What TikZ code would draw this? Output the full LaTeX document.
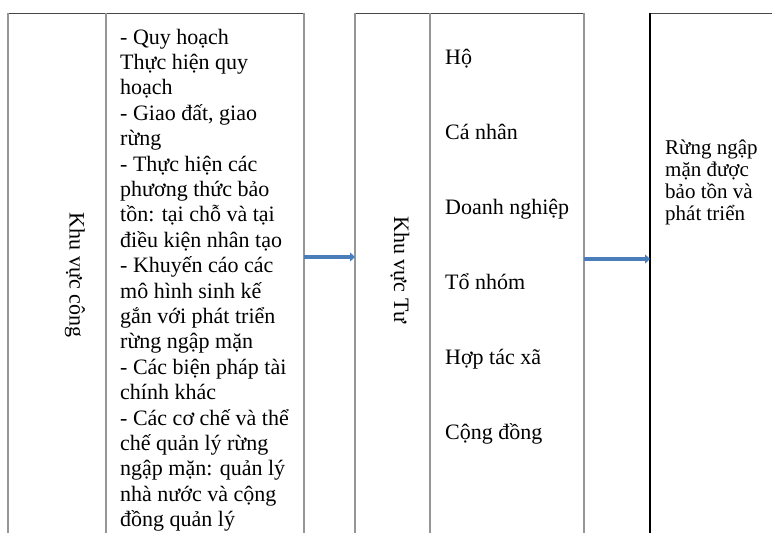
\documentclass[tikz,border=0pt]{standalone}
\usepackage{fontspec}
\setmainfont{Liberation Serif}
\usetikzlibrary{arrows.meta}
\definecolor{arrowblue}{RGB}{74,126,187}
\definecolor{rulegray}{RGB}{150,150,150}
\definecolor{topgray}{RGB}{70,70,70}
\begin{document}
\begin{tikzpicture}[x=1pt,y=-1pt,
  topline/.style={line width=1pt, draw=topgray},
  sideline/.style={line width=1.3pt, draw=rulegray},
  darkline/.style={line width=1.3pt, draw=black},
  flow/.style={line width=4.2pt, draw=arrowblue, -{Triangle[length=5pt,width=9pt]}},
  body/.style={font=\fontsize{22}{25}\selectfont, inner sep=0pt, anchor=base west},
  small/.style={font=\fontsize{21}{22}\selectfont, inner sep=0pt, anchor=base west},
  vlabel/.style={font=\fontsize{22}{25}\selectfont, inner sep=0pt, rotate=-90}]
\useasboundingbox (0,0) rectangle (772,533);
% box 1
\coordinate (a1) at (8,13);   \coordinate (a2) at (106,13);  \coordinate (a3) at (304,13);
\coordinate (a1b) at (8,533); \coordinate (a2b) at (106,533); \coordinate (a3b) at (304,533);
% box 2
\coordinate (b1) at (355,13);   \coordinate (b2) at (430,13);  \coordinate (b3) at (584,13);
\coordinate (b1b) at (355,533); \coordinate (b2b) at (430,533); \coordinate (b3b) at (584,533);
% box 3
\coordinate (c1) at (650,13);   \coordinate (c2) at (772,13);
\coordinate (c1b) at (650,533);
\draw[topline] (a1) -- (a3);
\draw[topline] (b1) -- (b3);
\draw[topline] (c1) -- (c2);
\draw[sideline] (a1) -- (a1b);
\draw[sideline] (a2) -- (a2b);
\draw[sideline] (a3) -- (a3b);
\draw[sideline] (b1) -- (b1b);
\draw[sideline] (b2) -- (b2b);
\draw[sideline] (b3) -- (b3b);
\draw[darkline] (c1) -- (c1b);
% labels
\node[vlabel] (kvc) at (75,275) {Khu vực công};
\node[vlabel] (kvt) at (400,270) {Khu vực Tư};
\foreach \t [count=\i] in {{- Quy hoạch},{Thực hiện quy},{hoạch},{- Giao đất, giao},{rừng},{- Thực hiện các},{phương thức bảo},{tồn: tại chỗ và tại},{điều kiện nhân tạo},{- Khuyến cáo các},{mô hình sinh kế},{gắn với phát triển},{rừng ngập mặn},{- Các biện pháp tài},{chính khác},{- Các cơ chế và thể},{chế quản lý rừng},{ngập mặn: quản lý},{nhà nước và cộng},{đồng quản lý}}
  \node[body] (p\i) at (120,{44+25.4*(\i-1)}) {\t};
\foreach \t [count=\i] in {Hộ,Cá nhân,Doanh nghiệp,Tổ nhóm,Hợp tác xã,Cộng đồng}
  \node[body] (q\i) at (445,{64+75*(\i-1)}) {\t};
\foreach \t [count=\i] in {Rừng ngập,mặn được,bảo tồn và,phát triển}
  \node[small] (r\i) at (665,{154+22*(\i-1)}) {\t};
% arrows
\coordinate (s1) at (304,257); \coordinate (e1) at (355,257);
\coordinate (s2) at (584,259); \coordinate (e2) at (650,259);
\draw[flow] (s1) -- (e1);
\draw[flow] (s2) -- (e2);
\end{tikzpicture}
\end{document}
